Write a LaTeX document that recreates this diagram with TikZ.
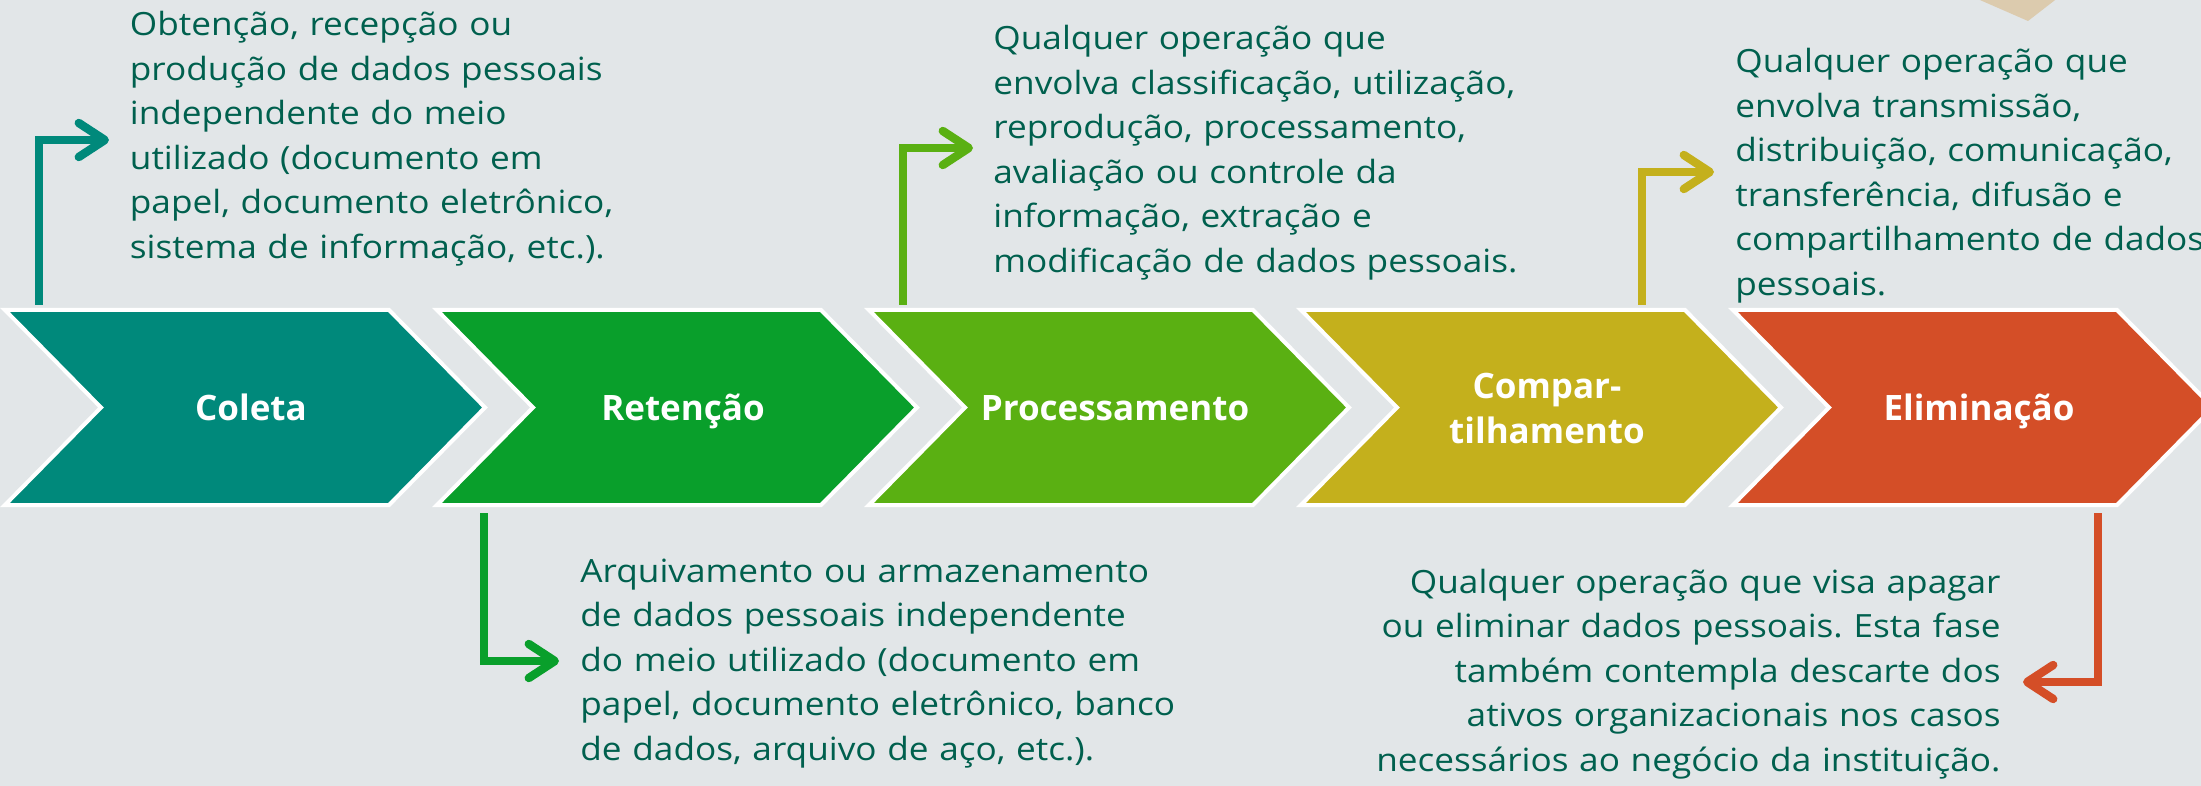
\documentclass[tikz,border=0pt]{standalone}
\usepackage{fontspec}
\setmainfont{Open Sans}
\newfontfamily\bodyfont{Open Sans}[FakeStretch=1.1]
\usetikzlibrary{arrows.meta}
\definecolor{bg}{HTML}{E2E6E8}
\definecolor{cteal}{HTML}{00897B}
\definecolor{cgreen}{HTML}{099F2B}
\definecolor{clime}{HTML}{5AB012}
\definecolor{cmustard}{HTML}{C4B01C}
\definecolor{corange}{HTML}{D44E27}
\definecolor{ctext}{HTML}{00604E}
\definecolor{cbeige}{HTML}{DCCBAE}
\frenchspacing
\tikzset{
  chev/.style={fill=#1, draw=white, line width=2pt, line join=miter},
  chevlabel/.style={font=\fontsize{17.5}{22.5}\selectfont\bfseries, text=white,
    align=center, text width=150pt, inner sep=0pt, anchor=base},
  desc/.style={font=\bodyfont\fontsize{16}{22.25}\selectfont, text=ctext,
    inner sep=0pt, text width=330pt},
  conn/.style={draw=#1, line width=4.2pt, line join=miter,
    -{Straight Barb[length=13pt,width=17pt,round]}},
}
\begin{document}
\begin{tikzpicture}[x=0.5pt,y=-0.5pt]
\fill[bg] (0,0) rectangle (2201,786);
\useasboundingbox (0,0) rectangle (2201,786);
\clip (0,0) rectangle (2201,786);
% beige corner shape
\fill[cbeige] (1957,-10) -- (2068,-10) -- (2028,21) -- cycle;
% chevrons
\foreach \xo/\cc in {5/cteal, 437/cgreen, 869/clime, 1301/cmustard, 1733/corange}
  \path[chev=\cc] (\xo,310) -- ++(384,0) -- ++(96,97.5) -- ++(-96,97.5)
     -- ++(-384,0) -- ++(96,-97.5) -- cycle;
% chevron labels
\node[chevlabel] (coleta) at (251,420) {Coleta};
\node[chevlabel] (retencao) at (683,420) {Retenção};
\node[chevlabel] (proc) at (1115,420) {Processamento};
\node[chevlabel] (comp) at (1547,398) {Compar-\\tilhamento};
\node[chevlabel] (elim) at (1979,420) {Eliminação};
% descriptions
\node[desc, anchor=base west, align=left] (t1) at (129.5,36)
  {Obtenção, recepção ou\\produção de dados pessoais\\independente do meio\\utilizado (documento em\\papel, documento eletrônico,\\sistema de informação, etc.).};
\node[desc, anchor=base west, align=left] (t2) at (580,582)
  {Arquivamento ou armazenamento\\de dados pessoais independente\\do meio utilizado (documento em\\papel, documento eletrônico, banco\\de dados, arquivo de aço, etc.).};
\node[desc, anchor=base west, align=left] (t3) at (993,50)
  {Qualquer operação que\\envolva classificação, utilização,\\reprodução, processamento,\\avaliação ou controle da\\informação, extração e\\modificação de dados pessoais.};
\node[desc, anchor=base west, align=left] (t4) at (1735,73)
  {Qualquer operação que\\envolva transmissão,\\distribuição, comunicação,\\transferência, difusão e\\compartilhamento de dados\\pessoais.};
\node[desc, anchor=base east, align=right] (t5) at (2001,593)
  {Qualquer operação que visa apagar\\ou eliminar dados pessoais. Esta fase\\também contempla descarte dos\\ativos organizacionais nos casos\\necessários ao negócio da instituição.};
% connectors
\coordinate (c1s) at (39,305);   \coordinate (c1e) at (109,140);
\coordinate (c2s) at (484,513);  \coordinate (c2e) at (559,661);
\coordinate (c3s) at (903,305);  \coordinate (c3e) at (973,148);
\coordinate (c4s) at (1642,305); \coordinate (c4e) at (1714,172);
\coordinate (c5s) at (2098,513); \coordinate (c5e) at (2023,682);
\draw[conn=cteal] (c1s) |- (c1e);
\draw[conn=cgreen] (c2s) |- (c2e);
\draw[conn=clime] (c3s) |- (c3e);
\draw[conn=cmustard] (c4s) |- (c4e);
\draw[conn=corange] (c5s) |- (c5e);
\end{tikzpicture}
\end{document}
